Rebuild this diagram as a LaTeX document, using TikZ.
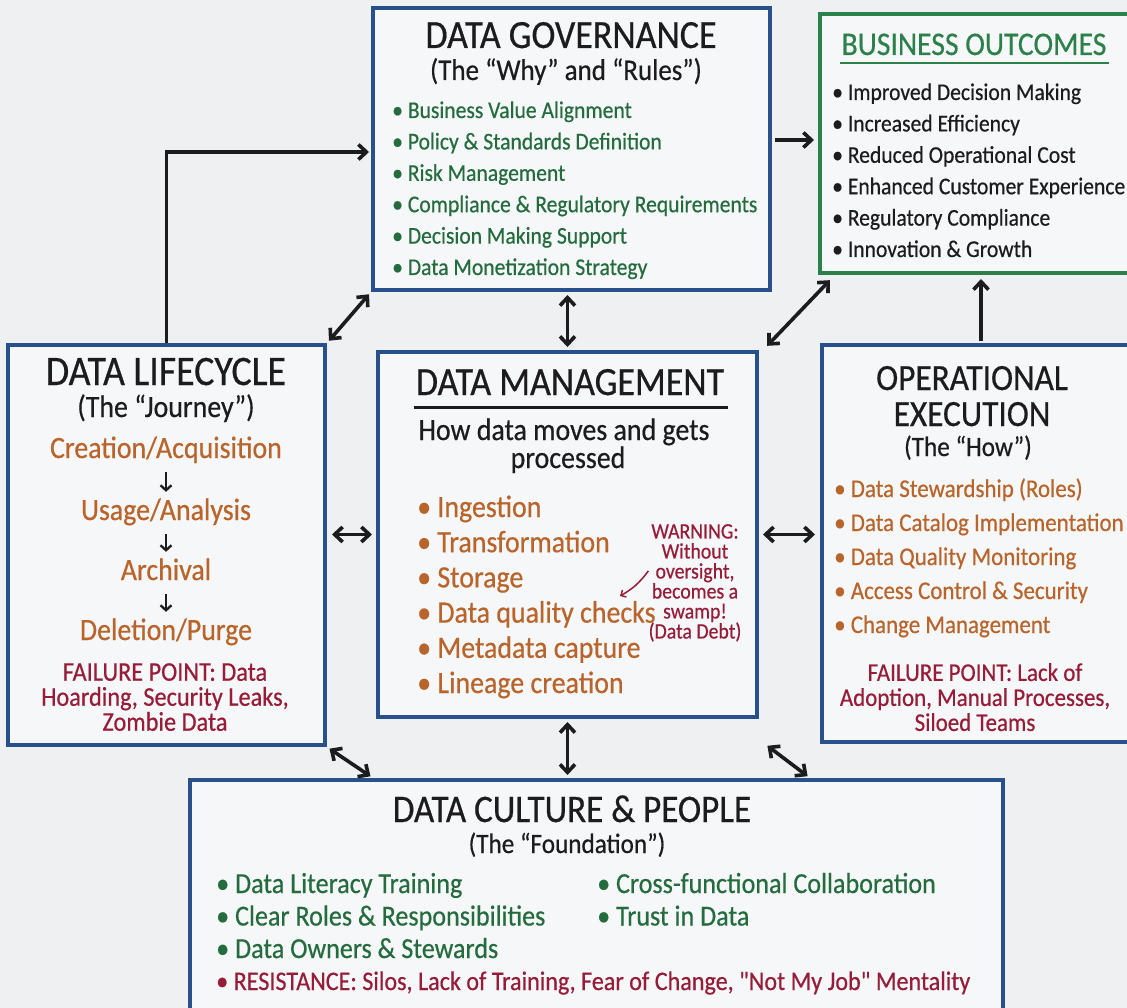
\documentclass[tikz,border=0pt]{standalone}
\usepackage{fontspec}
\setmainfont{Carlito}[FakeStretch=0.9, FakeBold=0.5]
\usetikzlibrary{arrows.meta}
\usetikzlibrary{positioning}
\definecolor{paper-grey}{RGB}{239, 240, 242}
\definecolor{box-fill}{RGB}{246, 247, 249}
\definecolor{box-blue}{RGB}{40, 80, 138}
\definecolor{box-green}{RGB}{44, 128, 74}
\definecolor{ink}{RGB}{28, 28, 30}
\definecolor{text-green}{RGB}{36, 108, 62}
\definecolor{text-orange}{RGB}{184, 100, 42}
\definecolor{text-red}{RGB}{150, 28, 56}

\tikzset{
  bluebox/.style={draw=box-blue, fill=box-fill, line width=4pt, inner sep=0pt},
  greenbox/.style={draw=box-green, fill=box-fill, line width=4pt, inner sep=0pt},
  arr/.style={-{Straight Barb[length=8pt,width=15pt]}, line width=3.6pt, draw=ink},
  dblarr/.style={{Straight Barb[length=8pt,width=15pt]}-{Straight Barb[length=8pt,width=15pt]}, line width=3.6pt, draw=ink, shorten <=3pt, shorten >=3pt},
  steparr/.style={-{Straight Barb[length=5pt,width=11pt]}, line width=2.3pt, draw=ink, shorten <=8pt, shorten >=6pt},
  warnarr/.style={-{Straight Barb[length=4pt,width=8pt]}, line width=1.5pt, draw=text-red},
  txt/.style={inner sep=0pt, anchor=base},
  listline/.style={inner sep=0pt, anchor=base west},
  stage/.style={txt, text=text-orange, font=\fontsize{31}{31}\selectfont, text height=22pt, text depth=6pt},
}

\begin{document}
\begin{tikzpicture}[x=1pt, y=-1pt]
\useasboundingbox (0,0) rectangle (1127,1008);
\fill[paper-grey] (0,0) rectangle (1127,1008);

% boxes
\node[bluebox, minimum width=397pt, minimum height=282pt] (gov) at (571.5,149) {};
\node[greenbox, minimum width=320pt, minimum height=259pt] (outc) at (980,143.5) {};
\node[bluebox, minimum width=317pt, minimum height=400pt] (life) at (166.5,545) {};
\node[bluebox, minimum width=379pt, minimum height=365pt] (mgmt) at (567.5,534.5) {};
\node[bluebox, minimum width=318pt, minimum height=397pt] (oper) at (981,543.5) {};
\node[bluebox, minimum width=813pt, minimum height=240pt] (cult) at (596.5,900) {};

% governance
\node[txt, text=ink, font=\fontsize{40}{40}\selectfont] (gov-title) at (571,48) {DATA GOVERNANCE};
\node[txt, text=ink, font=\fontsize{30}{30}\selectfont] (gov-sub) at (566,80) {(The “Why” and “Rules”)};
\foreach \itemtext [count=\i from 0] in {Business Value Alignment, Policy \& Standards Definition, Risk Management, Compliance \& Regulatory Requirements, Decision Making Support, Data Monetization Strategy}
  \node[listline, text=text-green, font=\fontsize{24}{24}\selectfont] (gov-item-\i) at (392, 118+31.4*\i) {• \itemtext};

% outcomes
\node[txt, text=box-green, font=\fontsize{33}{33}\selectfont] (outc-title) at (974,55) {BUSINESS OUTCOMES};
\draw[box-green, line width=2.5pt] ([xshift=-1pt,yshift=-8pt]outc-title.base west) -- ([xshift=2pt,yshift=-8pt]outc-title.base east);
\foreach \itemtext [count=\i from 0] in {Improved Decision Making, Increased Efficiency, Reduced Operational Cost, Enhanced Customer Experience, Regulatory Compliance, Innovation \& Growth}
  \node[listline, text=ink, font=\fontsize{24}{24}\selectfont] (outc-item-\i) at (832, 100+31.4*\i) {• \itemtext};

% lifecycle
\node[txt, text=ink, font=\fontsize{42}{42}\selectfont] (life-title) at (166,385) {DATA LIFECYCLE};
\node[txt, text=ink, font=\fontsize{31}{31}\selectfont] (life-sub) at (166,417) {(The “Journey”)};
\node[stage] (stage-create) at (166,458) {Creation/Acquisition};
\node[stage] (stage-use) at (166,520) {Usage/Analysis};
\node[stage] (stage-archive) at (166,580) {Archival};
\node[stage] (stage-delete) at (166,640) {Deletion/Purge};
\draw[steparr] (stage-create) -- (stage-use);
\draw[steparr] (stage-use) -- (stage-archive);
\draw[steparr] (stage-archive) -- (stage-delete);
\node[anchor=north, align=center, inner sep=0pt, text=text-red, font=\fontsize{27}{25}\selectfont] (life-fail) at (165,663) {FAILURE POINT: Data\\ Hoarding, Security Leaks,\\ Zombie Data};

% management
\node[txt, text=ink, font=\fontsize{40}{40}\selectfont] (mgmt-title) at (570,395) {DATA MANAGEMENT};
\draw[ink, line width=3pt] ([xshift=-2pt,yshift=-12pt]mgmt-title.base west) -- ([xshift=4pt,yshift=-12pt]mgmt-title.base east);
\node[txt, text=ink, font=\fontsize{31}{31}\selectfont] (mgmt-sub) at (564,440) {How data moves and gets};
\node[txt, text=ink, font=\fontsize{31}{31}\selectfont] (mgmt-sub2) at (568,468) {processed};
\foreach \itemtext [count=\i from 0] in {Ingestion, Transformation, Storage, Data quality checks, Metadata capture, Lineage creation}
  \node[listline, text=text-orange, font=\fontsize{31}{31}\selectfont] (mgmt-item-\i) at (417, 517+35.2*\i) {• \itemtext};
\node[anchor=north, align=center, inner sep=0pt, text=text-red, font=\fontsize{22}{20}\selectfont] (warn) at (695,524) {WARNING:\\ Without\\ oversight,\\ becomes a\\ swamp!\\ (Data Debt)};
\coordinate (swamp) at (620,596);
\draw[warnarr] ([yshift=12pt]warn.west) to[bend left=12] (swamp);

% operational execution
\node[txt, text=ink, font=\fontsize{37}{37}\selectfont] (oper-title) at (972,390) {OPERATIONAL};
\node[txt, text=ink, font=\fontsize{37}{37}\selectfont] (oper-title2) at (972,426) {EXECUTION};
\node[txt, text=ink, font=\fontsize{28}{28}\selectfont] (oper-sub) at (968,456) {(The “How”)};
\foreach \itemtext [count=\i from 0] in {Data Stewardship (Roles), Data Catalog Implementation, Data Quality Monitoring, Access Control \& Security, Change Management}
  \node[listline, text=text-orange, font=\fontsize{25.5}{25.5}\selectfont] (oper-item-\i) at (834, 497+34*\i) {• \itemtext};
\node[anchor=north, align=center, inner sep=0pt, text=text-red, font=\fontsize{25.5}{25}\selectfont] (oper-fail) at (975,663) {FAILURE POINT: Lack of\\ Adoption, Manual Processes,\\ Siloed Teams};

% culture
\node[txt, text=ink, font=\fontsize{39}{39}\selectfont] (cult-title) at (572,822) {DATA CULTURE \& PEOPLE};
\node[txt, text=ink, font=\fontsize{28}{28}\selectfont] (cult-sub) at (567,853) {(The “Foundation”)};
\foreach \itemtext [count=\i from 0] in {Data Literacy Training, Clear Roles \& Responsibilities, Data Owners \& Stewards}
  \node[listline, text=text-green, font=\fontsize{29}{29}\selectfont] (cult-left-\i) at (216, 893+32.5*\i) {• \itemtext};
\foreach \itemtext [count=\i from 0] in {Cross-functional Collaboration, Trust in Data}
  \node[listline, text=text-green, font=\fontsize{29}{29}\selectfont] (cult-right-\i) at (597, 893+32.5*\i) {• \itemtext};
\node[listline, text=text-red, font={\fontsize{26.8}{26.8}\selectfont\addfontfeatures{Ligatures=TeXOff}}] (cult-resist) at (216,990) {• RESISTANCE: Silos, Lack of Training, Fear of Change, "Not My Job" Mentality};

% connectors
\draw[arr, shorten >=2pt] (life.north) |- ([yshift=-3pt]gov.west);
\draw[arr, shorten <=3pt, shorten >=4pt] ([yshift=9pt]gov.east) -- ([yshift=9pt]gov.east -| outc.west);
\draw[dblarr] (gov.south west) -- (life.north east);
\draw[dblarr] (mgmt.north) -- (mgmt.north |- gov.south);
\draw[dblarr] ([xshift=6pt,yshift=2pt]mgmt.north east) -- ([xshift=14pt,yshift=-3pt]outc.south west);
\draw[arr, shorten <=2pt, shorten >=4pt] (oper.north) -- (oper.north |- outc.south);
\draw[dblarr, shorten <=5pt, shorten >=4pt] (life.east |- mgmt.west) -- (mgmt.west);
\draw[dblarr, shorten <=4pt, shorten >=5pt] (mgmt.east) -- (mgmt.east -| oper.west);
\draw[dblarr] (mgmt.south) -- (mgmt.south |- cult.north);
\draw[dblarr] (life.south east) -- ([xshift=185pt]cult.north west);
\draw[dblarr] ([xshift=-55pt]oper.south west) -- ([xshift=622pt]cult.north west);
\end{tikzpicture}
\end{document}
